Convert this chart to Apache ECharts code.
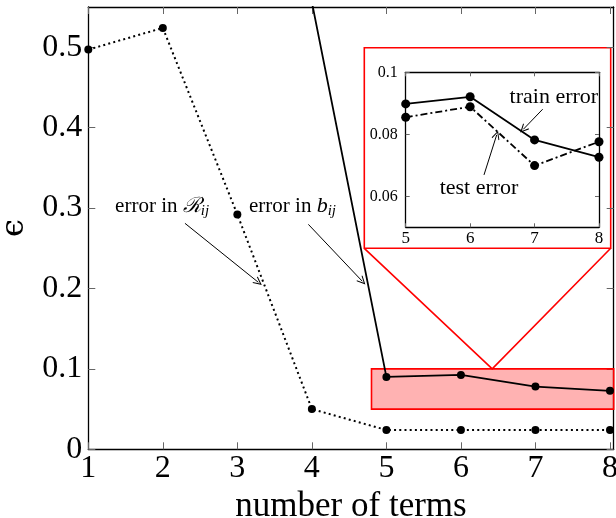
<!DOCTYPE html>
<html>
<head>
<meta charset="utf-8">
<script src="https://cdn.jsdelivr.net/npm/echarts@6/dist/echarts.min.js"></script>
<style>
html,body{margin:0;padding:0;background:#fff;}
#c{width:616px;height:518px;}
</style>
</head>
<body>
<div id="c"></div>
<script>
// ---- data ----
const termsR = [1, 2, 3, 4, 5, 6, 7, 8];
const errR = [0.497, 0.524, 0.292, 0.050, 0.024, 0.024, 0.024, 0.024];
const termsB = [4, 5, 6, 7, 8];
const errB = [0.556, 0.090, 0.0925, 0.078, 0.0727];
const insetTerms = [5, 6, 7, 8];
const trainErr = [0.0898, 0.0921, 0.0782, 0.0726];
const testErr = [0.0855, 0.0889, 0.0699, 0.0776];
const mainXTicks = [1, 2, 3, 4, 5, 6, 7, 8];
const mainYTicks = [0, 0.1, 0.2, 0.3, 0.4, 0.5];
const insetXTicks = [5, 6, 7, 8];
const insetYTicks = [0.06, 0.08, 0.1];

const FONT = "'Liberation Serif', 'DejaVu Serif', serif";
const pair = (xs, ys) => xs.map((x, i) => [x, ys[i]]);
const arrowHead = 'path://M5,0 L10,9.2 L9.1,10 L5,2.6 L0.9,10 L0,9.2 Z';

const chart = echarts.init(document.getElementById('c'), null, {renderer: 'canvas'});

const tickStyle = {show: true, inside: true, length: 7, lineStyle: {color: '#666', width: 1}};
const tickStyleSmall = {show: true, inside: true, length: 4, lineStyle: {color: '#666', width: 1}};
const axLine = {show: true, onZero: false, lineStyle: {color: '#000', width: 1.3}};

function mirrorX(grid, min, max, ticks, tk) {
  return {type: 'value', gridIndex: grid, position: 'top', min, max,
    axisLine: axLine, axisTick: Object.assign({customValues: ticks}, tk),
    axisLabel: {show: false}, splitLine: {show: false}};
}
function mirrorY(grid, min, max, ticks, tk) {
  return {type: 'value', gridIndex: grid, position: 'right', min, max,
    axisLine: axLine, axisTick: Object.assign({customValues: ticks}, tk),
    axisLabel: {show: false}, splitLine: {show: false}};
}

const option = {
  animation: false,
  backgroundColor: '#fff',
  grid: [
    {left: 88.3, top: 7, width: 525.4, height: 442.3, containLabel: false, outerBoundsMode: 'none'},
    {left: 405.7, top: 72.3, width: 193.3, height: 155, containLabel: false, outerBoundsMode: 'none'}
  ],
  xAxis: [
    {type: 'value', gridIndex: 0, min: 1, max: 8.05, interval: 1,
      name: 'number of terms', nameLocation: 'middle', nameGap: 37,
      nameTextStyle: {fontFamily: FONT, fontSize: 35, color: '#000'},
      axisLine: axLine, axisTick: Object.assign({customValues: mainXTicks}, tickStyle),
      axisLabel: {customValues: mainXTicks, fontFamily: FONT, fontSize: 32, color: '#000', margin: 3},
      splitLine: {show: false}},
    mirrorX(0, 1, 8.05, mainXTicks, tickStyle),
    {type: 'value', gridIndex: 1, min: 5, max: 8, interval: 1,
      axisLine: axLine, axisTick: Object.assign({customValues: insetXTicks}, tickStyleSmall),
      axisLabel: {customValues: insetXTicks, fontFamily: FONT, fontSize: 17, color: '#000', margin: 3},
      splitLine: {show: false}},
    mirrorX(1, 5, 8, insetXTicks, tickStyleSmall)
  ],
  yAxis: [
    {type: 'value', gridIndex: 0, min: 0, max: 0.55, interval: 0.05,
      name: 'ϵ', nameLocation: 'middle', nameGap: 58, nameRotate: 90,
      nameTextStyle: {fontFamily: "'DejaVu Serif', serif", fontSize: 32, color: '#000'},
      axisLine: axLine, axisTick: Object.assign({customValues: mainYTicks}, tickStyle),
      axisLabel: {customValues: mainYTicks, fontFamily: FONT, fontSize: 32, color: '#000', margin: 6},
      splitLine: {show: false}},
    mirrorY(0, 0, 0.55, mainYTicks, tickStyle),
    {type: 'value', gridIndex: 1, min: 0.05, max: 0.1, interval: 0.01,
      axisLine: axLine, axisTick: Object.assign({customValues: insetYTicks}, tickStyleSmall),
      axisLabel: {customValues: insetYTicks, fontFamily: FONT, fontSize: 16, color: '#000', margin: 8},
      splitLine: {show: false}},
    mirrorY(1, 0.05, 0.1, insetYTicks, tickStyleSmall)
  ],
  series: [
    {
      name: 'error in R', type: 'line', xAxisIndex: 0, yAxisIndex: 0,
      data: pair(termsR, errR), symbol: 'circle', symbolSize: 8,
      itemStyle: {color: '#000'}, lineStyle: {color: '#000', width: 2, type: [2, 3.2]},
      z: 3,
      markPoint: {
        silent: true, symbol: 'circle', symbolSize: 1,
        itemStyle: {color: 'rgba(0,0,0,0)'},
        data: [
          {coord: [1.99, 0.302], label: {show: true, position: 'inside', color: '#000',
            formatter: '{a|error in }{c|ℛ}{s|ij}',
            rich: {a: {fontFamily: FONT, fontSize: 21, color: '#000'},
                   c: {fontFamily: "'DejaVu Serif', serif", fontSize: 21, fontStyle: 'italic', color: '#000'},
                   s: {fontFamily: FONT, fontSize: 15, fontStyle: 'italic', color: '#000', padding: [9, 0, 0, 0]}}}},
          {coord: [3.74, 0.302], label: {show: true, position: 'inside', color: '#000',
            formatter: '{a|error in }{c|b}{s|ij}',
            rich: {a: {fontFamily: FONT, fontSize: 21, color: '#000'},
                   c: {fontFamily: FONT, fontSize: 22, fontStyle: 'italic', color: '#000'},
                   s: {fontFamily: FONT, fontSize: 15, fontStyle: 'italic', color: '#000', padding: [9, 0, 0, 0]}}}}
        ]
      },
      markLine: {
        silent: true, symbol: ['none', arrowHead], symbolSize: [8, 9],
        label: {show: false}, lineStyle: {color: '#000', width: 1, type: 'solid'},
        data: [
          [{coord: [2.297, 0.281]}, {coord: [3.281, 0.2077]}],
          [{coord: [3.953, 0.2797]}, {coord: [4.676, 0.209]}]
        ]
      }
    },
    {
      name: 'error in b', type: 'line', xAxisIndex: 0, yAxisIndex: 0,
      data: pair(termsB, errB), symbol: 'circle', symbolSize: 8, clip: true,
      itemStyle: {color: '#000'}, lineStyle: {color: '#000', width: 1.8},
      z: 4,
      markArea: {
        silent: true,
        itemStyle: {color: 'rgba(255,0,0,0.3)', borderColor: '#f00', borderWidth: 1.6},
        data: [[{coord: [4.8, 0.05]}, {coord: [8.05, 0.1]}]]
      }
    },
    {
      name: 'train error', type: 'line', xAxisIndex: 2, yAxisIndex: 2,
      data: pair(insetTerms, trainErr), symbol: 'circle', symbolSize: 9,
      itemStyle: {color: '#000'}, lineStyle: {color: '#000', width: 1.8},
      markPoint: {
        silent: true, symbol: 'circle', symbolSize: 1,
        itemStyle: {color: 'rgba(0,0,0,0)'},
        data: [
          {coord: [7.30, 0.0919], label: {show: true, position: 'inside', formatter: 'train error',
            fontFamily: FONT, fontSize: 22, color: '#000'}},
          {coord: [6.138, 0.0626], label: {show: true, position: 'inside', formatter: 'test error',
            fontFamily: FONT, fontSize: 22, color: '#000'}}
        ]
      },
      markLine: {
        silent: true, symbol: ['none', arrowHead], symbolSize: [8, 9],
        label: {show: false}, lineStyle: {color: '#000', width: 1, type: 'solid'},
        data: [
          [{coord: [7.126, 0.0881]}, {coord: [6.825, 0.0816]}],
          [{coord: [6.215, 0.0669]}, {coord: [6.412, 0.0798]}]
        ]
      }
    },
    {
      name: 'test error', type: 'line', xAxisIndex: 2, yAxisIndex: 2,
      data: pair(insetTerms, testErr), symbol: 'circle', symbolSize: 9,
      itemStyle: {color: '#000'}, lineStyle: {color: '#000', width: 1.8, type: [7, 3, 2, 3]}
    }
  ]
};
chart.setOption(option);

// Inset frame and connector lines (layout, not data)
const box = {x: 364.3, y: 47.7, w: 246.4, h: 200.6};
const apex = chart.convertToPixel({gridIndex: 0}, [6.42, 0.1]);
chart.setOption({
  graphic: [
    {type: 'rect', shape: {x: box.x, y: box.y, width: box.w, height: box.h},
      style: {fill: 'none', stroke: '#f00', lineWidth: 1.6}, silent: true},
    {type: 'polyline', shape: {points: [[box.x, box.y + box.h], apex, [box.x + box.w, box.y + box.h]]},
      style: {fill: 'none', stroke: '#f00', lineWidth: 1.6}, silent: true}
  ]
});
</script>
</body>
</html>
